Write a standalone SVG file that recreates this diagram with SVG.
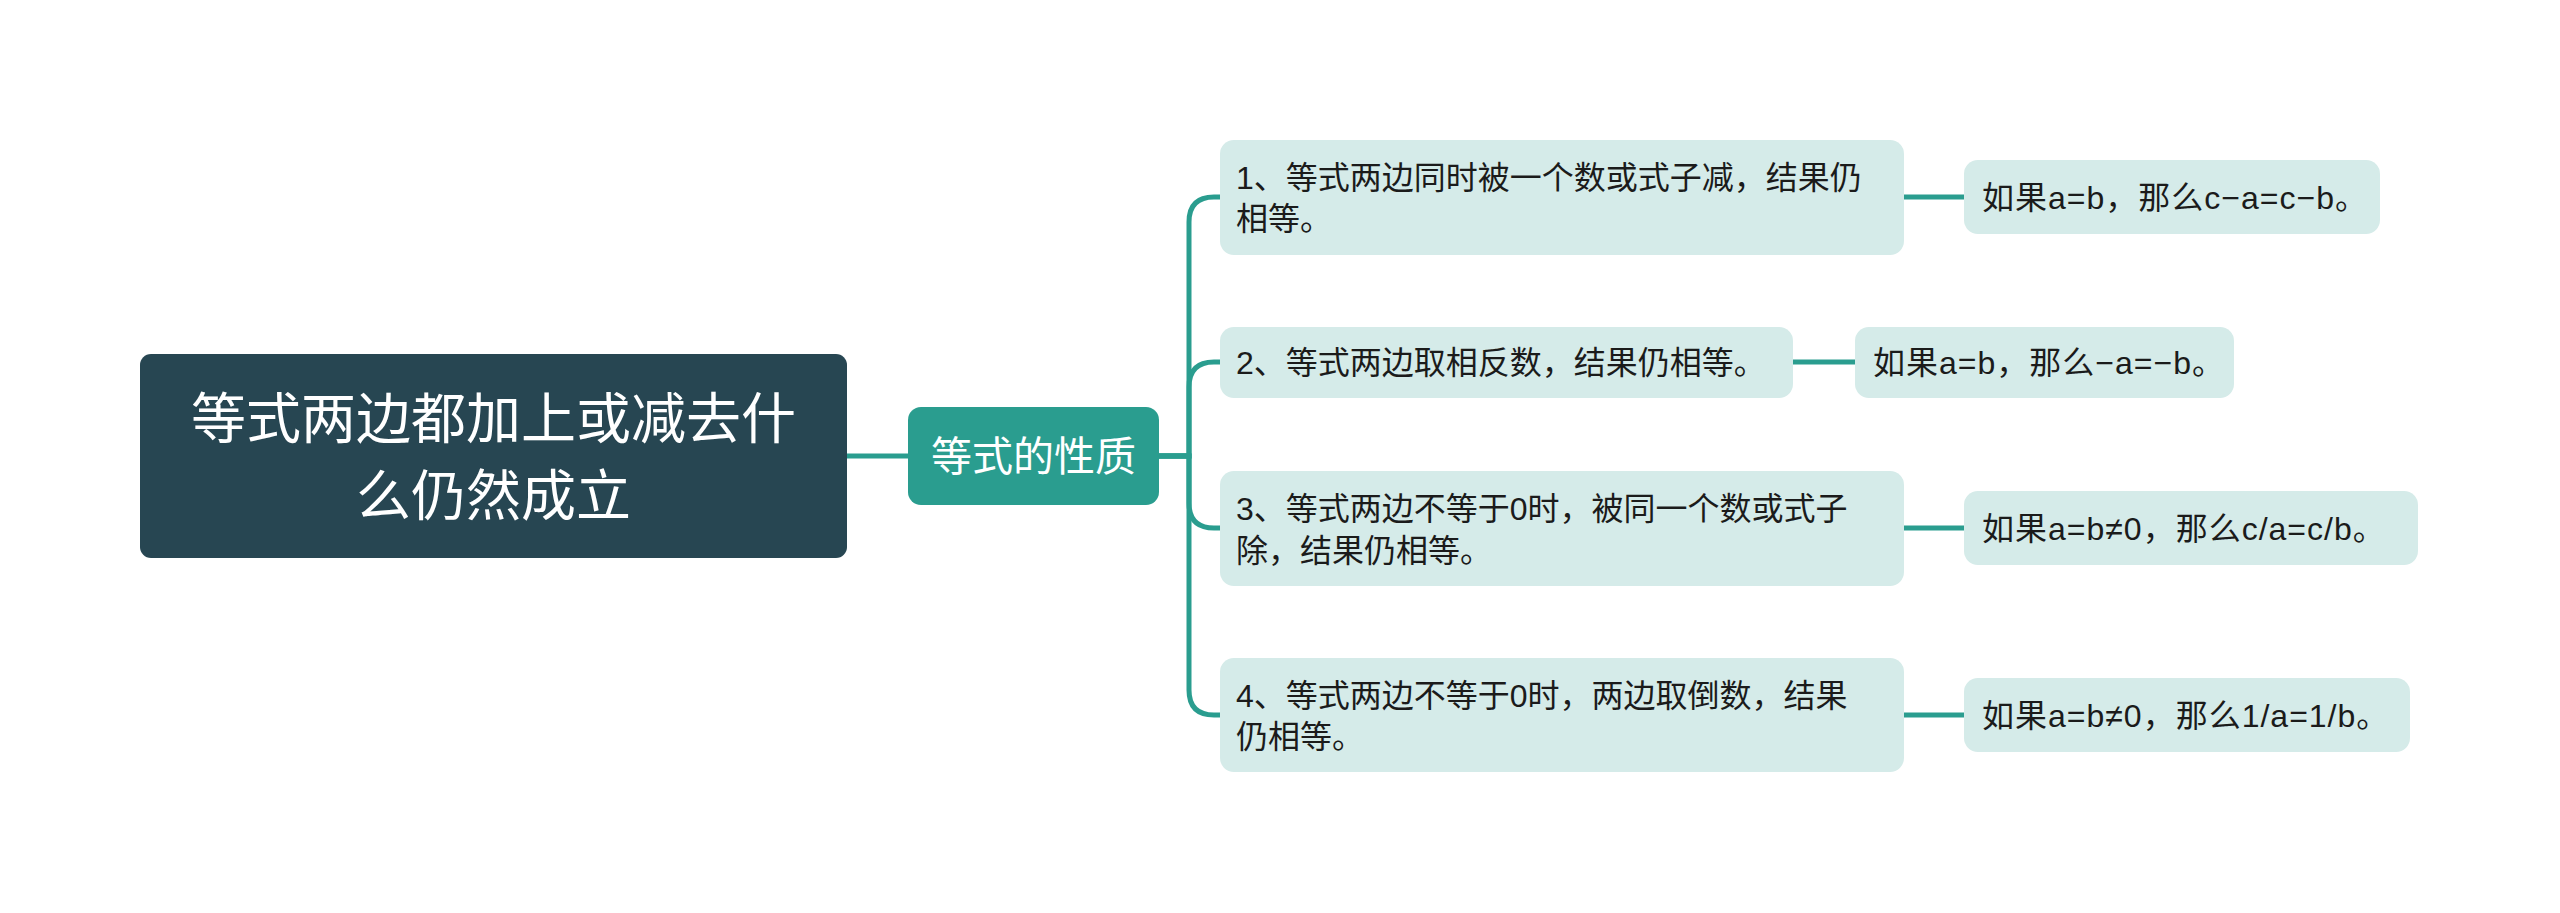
<svg xmlns="http://www.w3.org/2000/svg" width="2560" height="913" viewBox="0 0 2560 913">
<style>
.t{font-family:"Liberation Sans","Noto Sans CJK SC",sans-serif;}
.root{fill:#274652;}
.l1{fill:#2a9d8f;}
.leaf{fill:#d5ebe9;}
.wt{fill:#ffffff;}
.dt{fill:#1b1b1b;font-size:32px;}
.ls{letter-spacing:1px;}
.c{fill:none;stroke:#2a9d8f;stroke-width:5;stroke-linecap:round;}
</style>
<rect width="2560" height="913" fill="#ffffff"/>
<g id="connectors">
<line class="c" x1="847" y1="456" x2="908" y2="456"/>
<path class="c" d="M1159 456 H1189 V222 Q1189 197 1214 197 H1220"/>
<path class="c" d="M1159 456 H1189 V387 Q1189 362 1214 362 H1220"/>
<path class="c" d="M1159 456 H1189 V503 Q1189 528 1214 528 H1220"/>
<path class="c" d="M1159 456 H1189 V690 Q1189 715 1214 715 H1220"/>
<line class="c" x1="1904" y1="197" x2="1964" y2="197"/>
<line class="c" x1="1793" y1="362" x2="1855" y2="362"/>
<line class="c" x1="1904" y1="528" x2="1964" y2="528"/>
<line class="c" x1="1904" y1="715" x2="1964" y2="715"/>
</g>
<g id="root">
<rect class="root" x="140" y="354" width="707" height="204" rx="11"/>
<text class="t wt" font-size="55" text-anchor="middle" x="493.5" y="438">等式两边都加上或减去什</text>
<text class="t wt" font-size="55" text-anchor="middle" x="493.5" y="515">么仍然成立</text>
</g>
<g id="n-properties">
<rect class="l1" x="908" y="407" width="251" height="98" rx="13"/>
<text class="t wt" font-size="41" text-anchor="middle" x="1033.5" y="471">等式的性质</text>
</g>
<g id="n-p1">
<rect class="leaf" x="1220" y="140" width="684" height="115" rx="14"/>
<text class="t dt" x="1236" y="189">1、等式两边同时被一个数或式子减，结果仍</text>
<text class="t dt" x="1236" y="230">相等。</text>
</g>
<g id="n-p2">
<rect class="leaf" x="1220" y="327" width="573" height="71" rx="14"/>
<text class="t dt" x="1236" y="374">2、等式两边取相反数，结果仍相等。</text>
</g>
<g id="n-p3">
<rect class="leaf" x="1220" y="471" width="684" height="115" rx="14"/>
<text class="t dt" x="1236" y="520">3、等式两边不等于0时，被同一个数或式子</text>
<text class="t dt" x="1236" y="562">除，结果仍相等。</text>
</g>
<g id="n-p4">
<rect class="leaf" x="1220" y="658" width="684" height="114" rx="14"/>
<text class="t dt" x="1236" y="707">4、等式两边不等于0时，两边取倒数，结果</text>
<text class="t dt" x="1236" y="748">仍相等。</text>
</g>
<g id="n-e1">
<rect class="leaf" x="1964" y="160" width="416" height="74" rx="14"/>
<text class="t dt ls" x="1982" y="209">如果a=b，那么c−a=c−b。</text>
</g>
<g id="n-e2">
<rect class="leaf" x="1855" y="327" width="379" height="71" rx="14"/>
<text class="t dt ls" x="1873" y="374">如果a=b，那么−a=−b。</text>
</g>
<g id="n-e3">
<rect class="leaf" x="1964" y="491" width="454" height="74" rx="14"/>
<text class="t dt ls" x="1982" y="540">如果a=b≠0，那么c/a=c/b。</text>
</g>
<g id="n-e4">
<rect class="leaf" x="1964" y="678" width="446" height="74" rx="14"/>
<text class="t dt ls" x="1982" y="727">如果a=b≠0，那么1/a=1/b。</text>
</g>
</svg>
